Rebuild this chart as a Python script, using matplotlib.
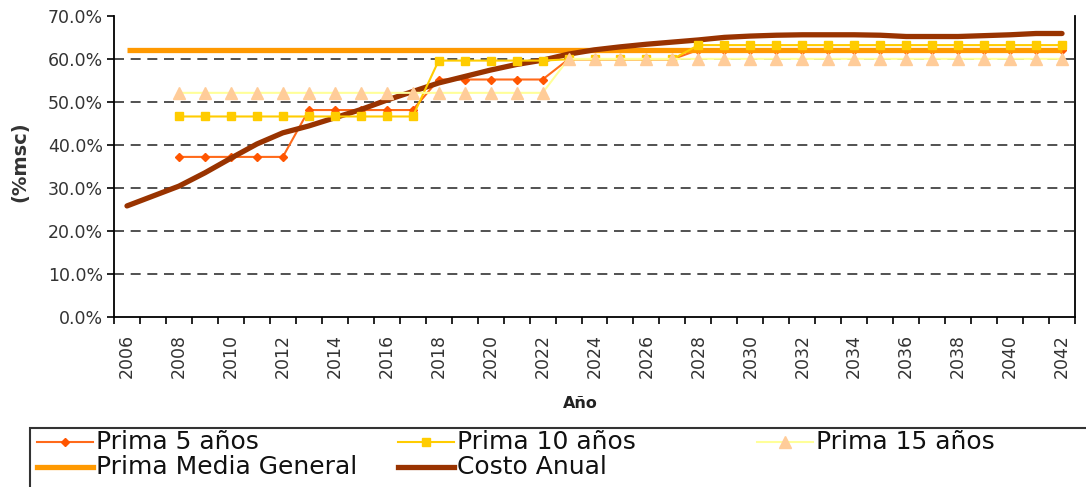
import numpy as np
import matplotlib
matplotlib.use("Agg")
import matplotlib.pyplot as plt
from matplotlib.lines import Line2D
from matplotlib.patches import Rectangle
from matplotlib.ticker import FuncFormatter

# data (% msc)
years = list(range(2006, 2043))
prima_5 = [np.nan, np.nan,
           37.3, 37.3, 37.3, 37.3, 37.3,
           48.2, 48.2, 48.2, 48.2, 48.2,
           55.3, 55.3, 55.3, 55.3, 55.3,
           60.0, 60.0, 60.0, 60.0, 60.0,
           62.2, 62.2, 62.2, 62.2, 62.2, 62.2, 62.2, 62.2, 62.2, 62.2,
           62.2, 62.2, 62.2, 62.2, 62.2]
prima_10 = [np.nan, np.nan,
            46.7, 46.7, 46.7, 46.7, 46.7, 46.7, 46.7, 46.7, 46.7, 46.7,
            59.7, 59.7, 59.7, 59.7, 59.7,
            60.0, 60.0, 60.0, 60.0, 60.0,
            63.3, 63.3, 63.3, 63.3, 63.3, 63.3, 63.3, 63.3, 63.3, 63.3,
            63.3, 63.3, 63.3, 63.3, 63.3]
prima_15 = [np.nan, np.nan,
            52.2, 52.2, 52.2, 52.2, 52.2, 52.2, 52.2, 52.2, 52.2, 52.2,
            52.2, 52.2, 52.2, 52.2, 52.2,
            60.1, 60.1, 60.1, 60.1, 60.1, 60.1, 60.1, 60.1, 60.1, 60.1,
            60.1, 60.1, 60.1, 60.1, 60.1, 60.1, 60.1, 60.1, 60.1, 60.1]
prima_media = [62.2, 62.2, 62.2, 62.2, 62.2, 62.2, 62.2, 62.2, 62.2, 62.2,
               62.2, 62.2, 62.2, 62.2, 62.2, 62.2, 62.2, 62.2, 62.2, 62.2,
               62.2, 62.2, 62.2, 62.2, 62.2, 62.2, 62.2, 62.2, 62.2, 62.2,
               62.2, 62.2, 62.2, 62.2, 62.2, 62.2, 62.2]
costo_anual = [25.9, 28.2, 30.5, 33.6, 37.0, 40.3, 42.9, 44.5, 46.4, 48.3,
               50.5, 52.5, 54.5, 56.0, 57.5, 58.8, 59.8, 61.2, 62.2, 62.9,
               63.5, 64.0, 64.5, 65.1, 65.4, 65.6, 65.7, 65.7, 65.7, 65.6,
               65.3, 65.3, 65.3, 65.5, 65.7, 66.0, 66.0]

c5, c10, c15_line, c15_mk = "#FF6A1A", "#FFCC00", "#FFFF99", "#FFCC99"
c_media, c_costo = "#FF9900", "#993300"

fig = plt.figure(figsize=(10.86, 4.87), dpi=100)
ax = fig.add_axes([114 / 1086, 1 - 317.3 / 487, 961 / 1086, 301 / 487])

x = np.arange(len(years))
ax.plot(x, prima_5, color=c5, lw=1.5, marker="D", ms=4.5, mfc="#FF5500", mec="#FF5500", zorder=2)
ax.plot(x, prima_media, color=c_media, lw=3.8, solid_capstyle="butt", zorder=3)
ax.plot(x, costo_anual, color=c_costo, lw=3.8, solid_capstyle="round", zorder=4)
ax.plot(x, prima_10, color=c10, lw=1.5, marker="s", ms=6, mfc=c10, mec=c10, zorder=5)
ax.plot(x, prima_15, color=c15_line, lw=1.5, marker="^", ms=8.5, mfc=c15_mk, mec=c15_mk, zorder=6)

ax.set_xlim(-0.5, len(years) - 0.5)
ax.set_ylim(0, 70)
ax.set_yticks(np.arange(0, 71, 10))
ax.yaxis.set_major_formatter(FuncFormatter(lambda v, p: f"{v:.1f}%"))
for v in range(10, 70, 10):
    ax.axhline(v, color="#333333", lw=1.2, ls=(0, (6, 4)), zorder=1)

ax.set_xticks(x[::2])
ax.set_xticklabels([str(y) for y in years[::2]], rotation=90)
ax.set_xticks(np.arange(-0.5, len(years), 1), minor=True)
ax.tick_params(axis="x", which="major", length=0, pad=12, labelsize=12.5, labelcolor="#333333")
ax.tick_params(axis="x", which="minor", length=5, width=1.2, direction="out")
ax.tick_params(axis="y", length=5, width=1.2, direction="out", labelsize=12.5, labelcolor="#333333", pad=3)

ax.spines["top"].set_visible(False)
for s in ["left", "bottom", "right"]:
    ax.spines[s].set_linewidth(1.3)

fig.text(20 / 1086, 1 - 162 / 487, "(%msc)", rotation=90, ha="center", va="center",
         fontsize=14, fontweight="bold", color="#333333")
fig.text(580 / 1086, 1 - 403 / 487, "Año", ha="center", va="center",
         fontsize=11.5, fontweight="bold", color="#222222")

# legend drawn by hand: fixed column positions like the original
fig.add_artist(Rectangle((30 / 1086, -0.05), 1.2, 0.05 + 1 - 428 / 487,
                         transform=fig.transFigure, fill=False, ec="#333333", lw=1.5))
entries = [
    ("Prima 5 años", 37, 442, c5, 1.5, "D", 4, "#FF5500"),
    ("Prima 10 años", 398, 442, c10, 1.5, "s", 5.5, c10),
    ("Prima 15 años", 757, 442, c15_line, 1.5, "^", 8, c15_mk),
    ("Prima Media General", 37, 467, c_media, 3.8, None, 0, None),
    ("Costo Anual", 398, 467, c_costo, 3.8, None, 0, None),
]
for label, px, py, lc, lw, mk, ms, mc in entries:
    yy = 1 - py / 487
    fig.add_artist(Line2D([px / 1086, (px + 56) / 1086], [yy, yy], transform=fig.transFigure,
                          color=lc, lw=lw))
    if mk:
        fig.add_artist(Line2D([(px + 28) / 1086], [yy], transform=fig.transFigure, lw=0,
                              marker=mk, ms=ms, mfc=mc, mec=mc))
    fig.text((px + 59) / 1086, yy, label, ha="left", va="center", fontsize=18, color="#111111")

fig.savefig("out.png", dpi=100)
